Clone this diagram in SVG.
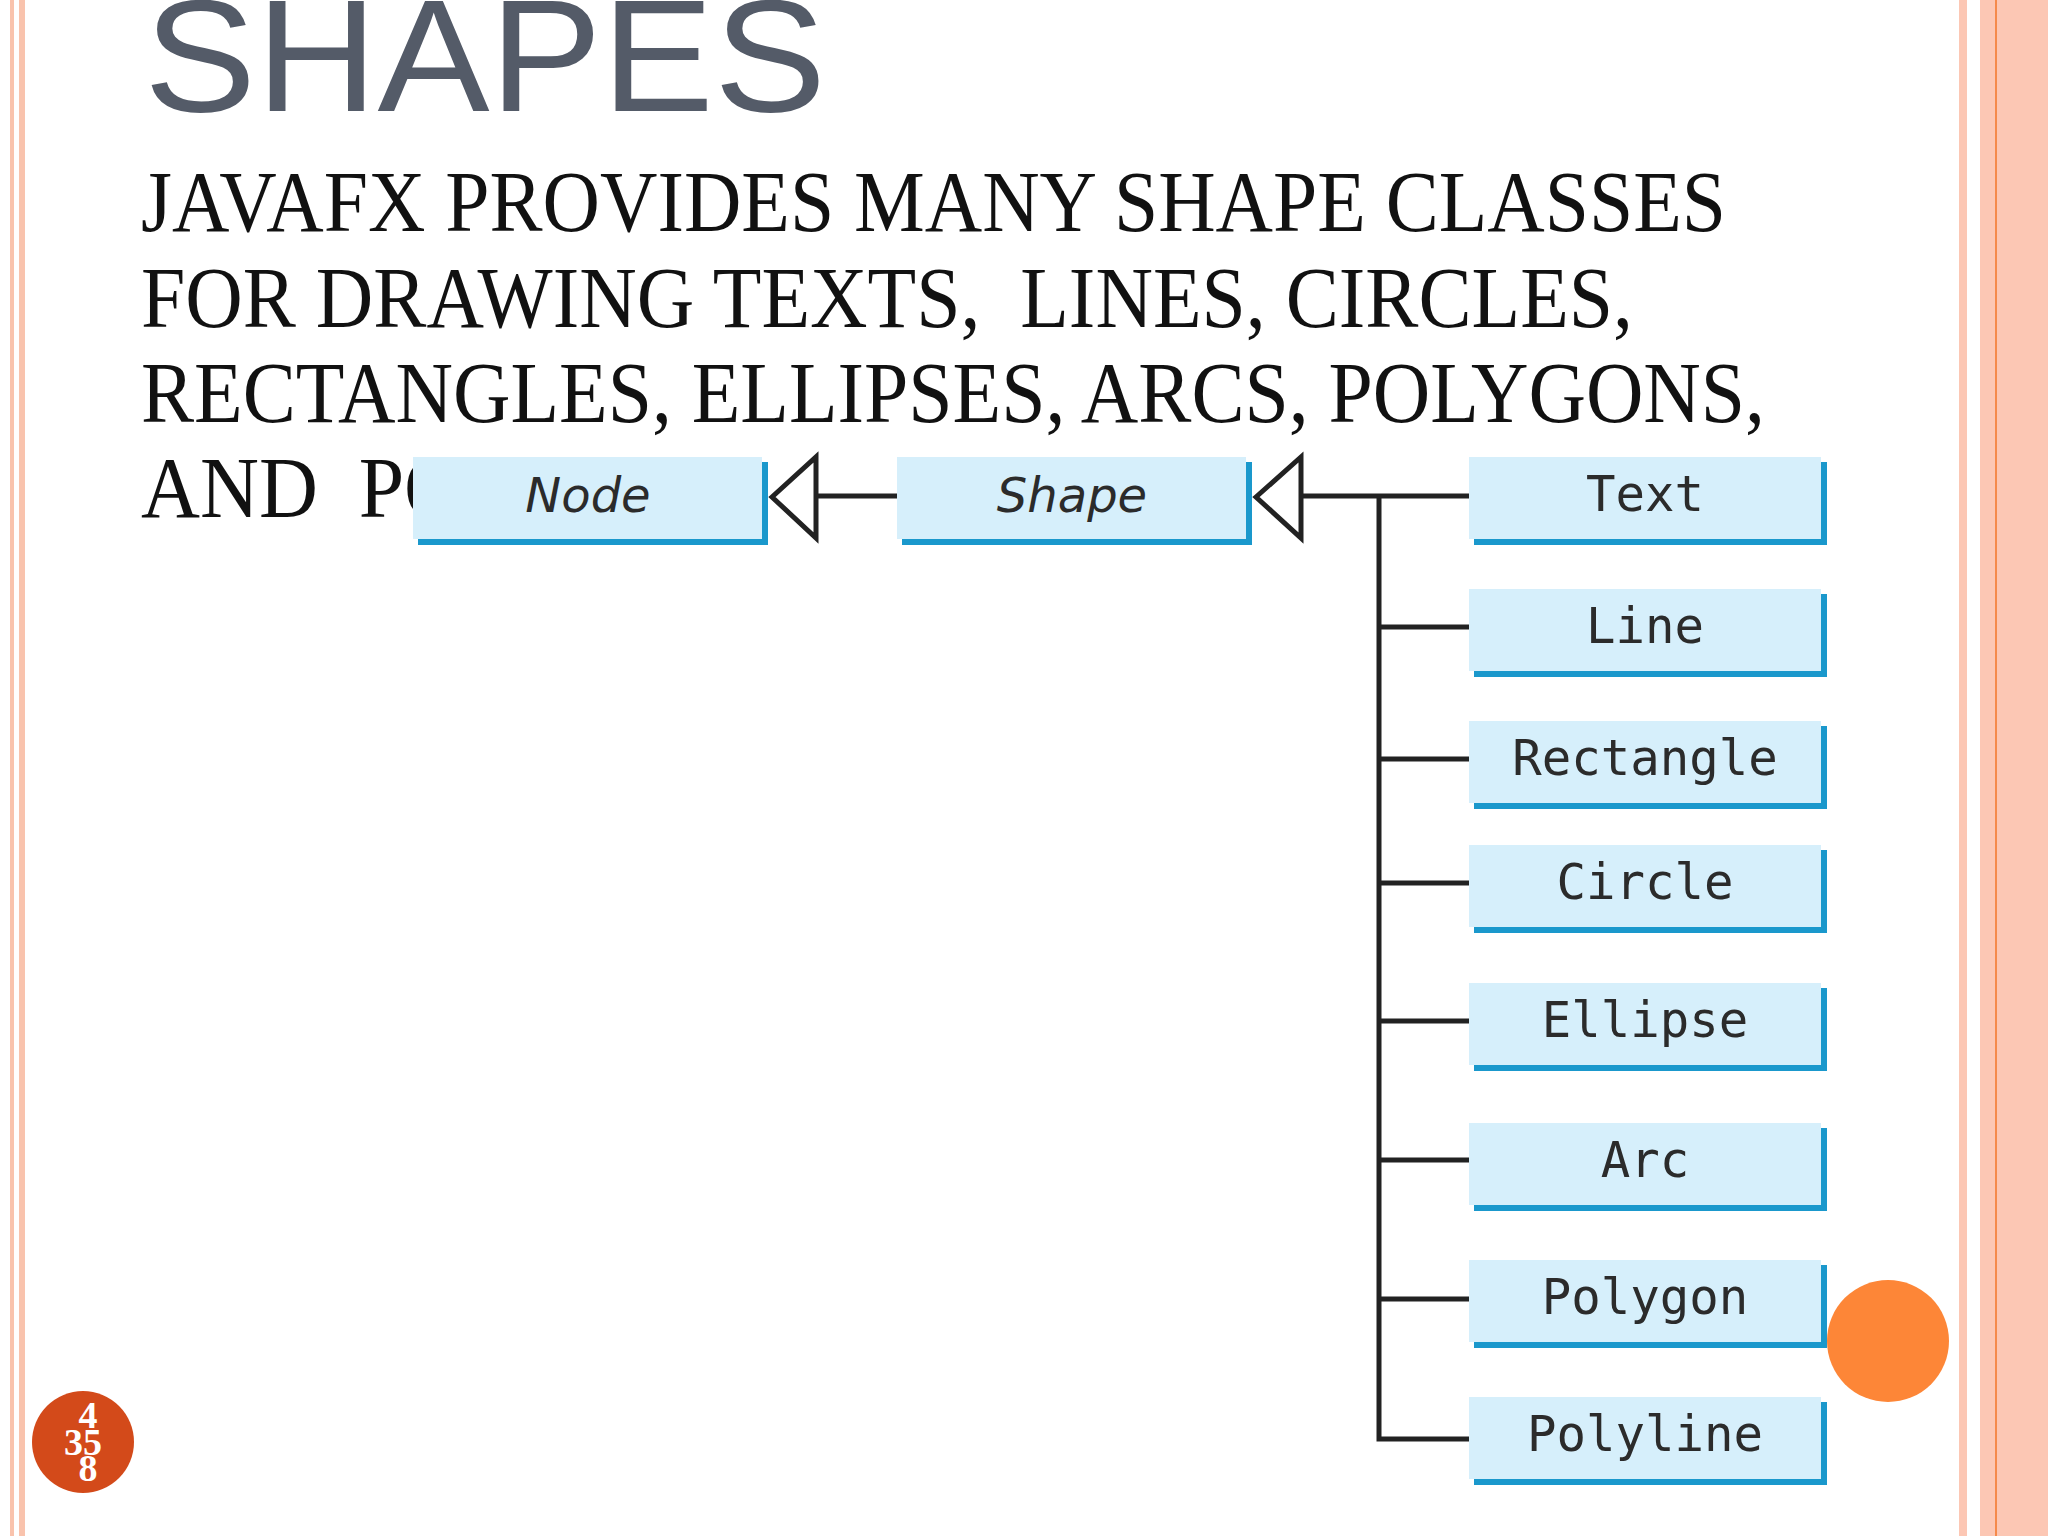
<svg xmlns="http://www.w3.org/2000/svg" width="2048" height="1536" viewBox="0 0 2048 1536">
<style>
.b{fill:#d6effb}.sh{fill:#1a98cc}
.t{font-family:"DejaVu Sans Mono",monospace;font-size:49px;fill:#2b2b2b;text-anchor:middle}
.i{font-family:"DejaVu Sans",sans-serif;font-style:italic;font-size:48px;fill:#2b2b2b;text-anchor:middle}
.body{font-family:"Liberation Serif",serif;font-size:86px;fill:#111}
.c{stroke:#222;stroke-width:5;fill:none}
</style>
<rect width="2048" height="1536" fill="#fff"/>
<rect x="10" y="0" width="4" height="1536" fill="#f9c3ad"/>
<rect x="19" y="0" width="6" height="1536" fill="#f9c3ad"/>
<rect x="1959" y="0" width="8" height="1536" fill="#fcc7b4"/>
<rect x="1980" y="0" width="68" height="1536" fill="#fcc7b4"/>
<rect x="1995" y="0" width="2" height="1536" fill="#f58a4b"/>
<text x="144" y="111" font-family="Liberation Sans,sans-serif" font-size="160" fill="#545b68" textLength="682" lengthAdjust="spacingAndGlyphs">SHAPES</text>
<text class="body" x="141" y="231" textLength="1585" lengthAdjust="spacingAndGlyphs">JAVAFX PROVIDES MANY SHAPE CLASSES</text>
<text class="body" x="141" y="327" textLength="1492" lengthAdjust="spacingAndGlyphs" xml:space="preserve">FOR DRAWING TEXTS,  LINES, CIRCLES,</text>
<text class="body" x="141" y="422" textLength="1624" lengthAdjust="spacingAndGlyphs">RECTANGLES, ELLIPSES, ARCS, POLYGONS,</text>
<text class="body" x="141" y="517" xml:space="preserve" textLength="322" lengthAdjust="spacingAndGlyphs">AND  PO</text>
<g id="connectors">
<line class="c" x1="816" y1="496" x2="897" y2="496"/>
<polygon class="c" points="772,497 816,457 816,538"/>
<polyline class="c" points="1301,496 1469,496"/>
<polygon class="c" points="1256,497 1301,457 1301,538"/>
<polyline class="c" points="1469,1439 1379,1439 1379,496"/>
<line class="c" x1="1379" y1="627" x2="1469" y2="627"/>
<line class="c" x1="1379" y1="759" x2="1469" y2="759"/>
<line class="c" x1="1379" y1="883" x2="1469" y2="883"/>
<line class="c" x1="1379" y1="1021" x2="1469" y2="1021"/>
<line class="c" x1="1379" y1="1160" x2="1469" y2="1160"/>
<line class="c" x1="1379" y1="1299" x2="1469" y2="1299"/>
</g>
<g id="node"><rect class="sh" x="418" y="462" width="350" height="83"/><rect class="b" x="413" y="457" width="349" height="82"/><text class="i" x="588" y="512">Node</text></g>
<g id="shape"><rect class="sh" x="902" y="462" width="350" height="83"/><rect class="b" x="897" y="457" width="349" height="82"/><text class="i" x="1072" y="512">Shape</text></g>
<g id="text"><rect class="sh" x="1474" y="462" width="353" height="83"/><rect class="b" x="1469" y="457" width="352" height="82"/><text class="t" x="1645" y="511">Text</text></g>
<g id="line"><rect class="sh" x="1474" y="594" width="353" height="83"/><rect class="b" x="1469" y="589" width="352" height="82"/><text class="t" x="1645" y="643">Line</text></g>
<g id="rectangle"><rect class="sh" x="1474" y="726" width="353" height="83"/><rect class="b" x="1469" y="721" width="352" height="82"/><text class="t" x="1645" y="775">Rectangle</text></g>
<g id="circle"><rect class="sh" x="1474" y="850" width="353" height="83"/><rect class="b" x="1469" y="845" width="352" height="82"/><text class="t" x="1645" y="899">Circle</text></g>
<g id="ellipse"><rect class="sh" x="1474" y="988" width="353" height="83"/><rect class="b" x="1469" y="983" width="352" height="82"/><text class="t" x="1645" y="1037">Ellipse</text></g>
<g id="arc"><rect class="sh" x="1474" y="1128" width="353" height="83"/><rect class="b" x="1469" y="1123" width="352" height="82"/><text class="t" x="1645" y="1177">Arc</text></g>
<g id="polygon"><rect class="sh" x="1474" y="1265" width="353" height="83"/><rect class="b" x="1469" y="1260" width="352" height="82"/><text class="t" x="1645" y="1314">Polygon</text></g>
<g id="polyline"><rect class="sh" x="1474" y="1402" width="353" height="83"/><rect class="b" x="1469" y="1397" width="352" height="82"/><text class="t" x="1645" y="1451">Polyline</text></g>
<circle cx="1888" cy="1341" r="61" fill="#fd8637"/>
<circle cx="83" cy="1442" r="51" fill="#d34a1a"/>
<g font-family="Liberation Serif,serif" font-weight="bold" font-size="38" fill="#fff" text-anchor="middle">
<text x="88" y="1428">4</text><text x="83" y="1455">35</text><text x="88" y="1481">8</text>
</g>
</svg>
